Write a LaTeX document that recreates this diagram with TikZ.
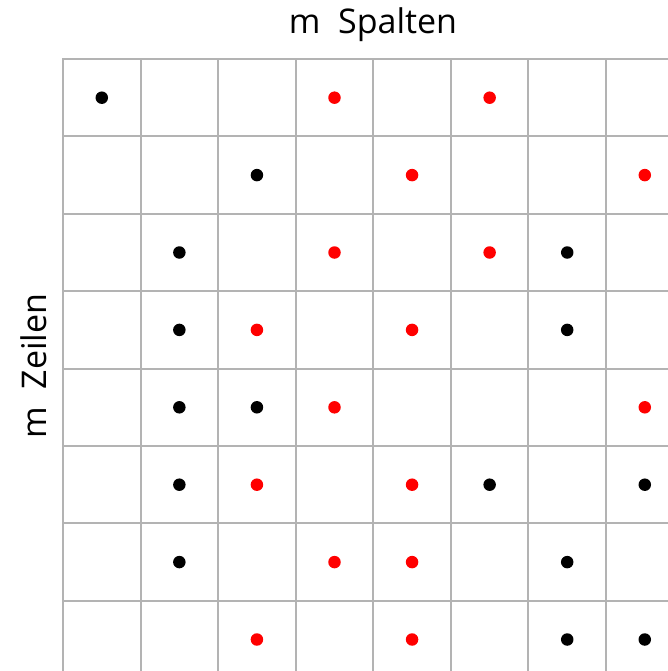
\documentclass[tikz,border=0pt]{standalone}
\usepackage{fontspec}
\setmainfont{Open Sans}
\definecolor{gridgray}{HTML}{B3B3B3}
\definecolor{dotred}{HTML}{FF0000}
\tikzset{
  gridline/.style={draw=gridgray, line width=2pt},
  bdot/.style={circle, fill=black, inner sep=0pt, minimum size=12.5pt},
  rdot/.style={circle, fill=dotred, inner sep=0pt, minimum size=12.5pt},
  lbl/.style={font=\fontsize{34}{40}\selectfont, inner sep=0pt}
}
\begin{document}
\begin{tikzpicture}[x=1pt,y=-1pt]
\useasboundingbox (0,0) rectangle (668,671);
\fill[white] (0,0) rectangle (668,671);
% grid
\foreach \i in {0,...,7} {
  \draw[gridline] ({63+77.57*\i},59) -- ({63+77.57*\i},672);
  \draw[gridline] (62,{59+77.4*\i}) -- (669,{59+77.4*\i});
}
% dots: col,row,style
\foreach \c/\r/\s [count=\k] in {
 1/1/bdot,4/1/rdot,6/1/rdot,
 3/2/bdot,5/2/rdot,8/2/rdot,
 2/3/bdot,4/3/rdot,6/3/rdot,7/3/bdot,
 2/4/bdot,3/4/rdot,5/4/rdot,7/4/bdot,
 2/5/bdot,3/5/bdot,4/5/rdot,8/5/rdot,
 2/6/bdot,3/6/rdot,5/6/rdot,6/6/bdot,8/6/bdot,
 2/7/bdot,4/7/rdot,5/7/rdot,7/7/bdot,
 3/8/rdot,5/8/rdot,7/8/bdot,8/8/bdot} {
  \node[\s] (d\k) at ({63+77.57*(\c-0.5)},{59+77.4*(\r-0.5)}) {};
}
\node[lbl] (top) at (373,25) {m\ \ Spalten};
\node[lbl, rotate=90] (left) at (34,366) {m\ \ Zeilen};
\end{tikzpicture}
\end{document}
